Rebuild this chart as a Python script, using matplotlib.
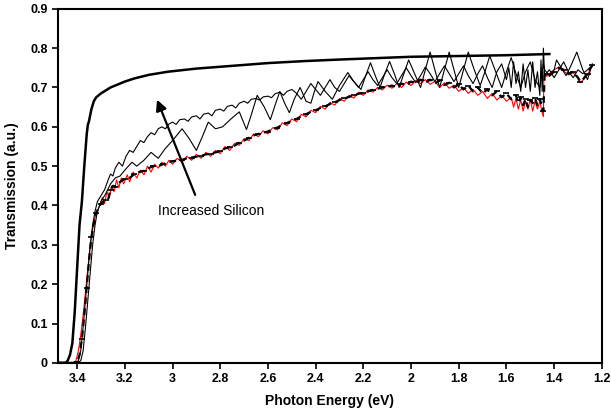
import matplotlib
matplotlib.use("Agg")
import matplotlib.pyplot as plt
import numpy as np

plt.rcParams['font.family'] = ['Liberation Sans', 'DejaVu Sans']

# thick curve (lowest silicon content)
e_thick = [3.48, 3.45, 3.44, 3.43, 3.42, 3.41, 3.40, 3.39, 3.38, 3.37, 3.36, 3.355,
           3.35, 3.34, 3.33, 3.32, 3.30, 3.26, 3.20, 3.16, 3.10, 3.02, 2.90, 2.75,
           2.60, 2.45, 2.30, 2.13, 2.00, 1.80, 1.60, 1.42]
t_thick = [0.0, 0.0, 0.005, 0.02, 0.05, 0.13, 0.24, 0.35, 0.41, 0.50, 0.58, 0.605,
           0.615, 0.645, 0.665, 0.675, 0.685, 0.70, 0.715, 0.723, 0.732, 0.740, 0.748, 0.755,
           0.762, 0.767, 0.771, 0.775, 0.778, 0.780, 0.782, 0.785]

# upper thin curve
e_a = [3.48, 3.41, 3.395, 3.385, 3.375, 3.365, 3.355, 3.345, 3.335, 3.325, 3.315, 3.30,
       3.285, 3.27, 3.26, 3.25, 3.24, 3.225, 3.21, 3.195, 3.18, 3.165, 3.15, 3.135,
       3.12, 3.105, 3.09, 3.075, 3.06, 3.045, 3.03, 3.015, 3.00, 2.985, 2.97, 2.95,
       2.935, 2.92, 2.90, 2.885, 2.87, 2.85, 2.835, 2.82, 2.80, 2.785, 2.77, 2.75,
       2.735, 2.72, 2.70, 2.685, 2.67, 2.65, 2.635, 2.62, 2.60, 2.585, 2.57, 2.55,
       2.535, 2.52, 2.50, 2.48, 2.46, 2.44, 2.42, 2.40, 2.38, 2.36, 2.34, 2.32,
       2.30, 2.28, 2.26, 2.24, 2.22, 2.20, 2.18, 2.16, 2.14, 2.12, 2.10, 2.08,
       2.06, 2.04, 2.02, 2.00, 1.98, 1.96, 1.94, 1.92, 1.90, 1.88, 1.86, 1.84,
       1.82, 1.80, 1.78, 1.76, 1.74, 1.72, 1.70, 1.68, 1.66, 1.64, 1.62, 1.60,
       1.59, 1.58, 1.57, 1.56, 1.55, 1.54, 1.53, 1.52, 1.51, 1.50, 1.49, 1.48,
       1.47, 1.46, 1.455, 1.45, 1.445, 1.44, 1.42, 1.40, 1.38, 1.36, 1.34, 1.32,
       1.30, 1.28, 1.26, 1.24]
t_a = [0.0, 0.0, 0.005, 0.03, 0.09, 0.16, 0.23, 0.30, 0.35, 0.385, 0.41, 0.425,
       0.44, 0.465, 0.48, 0.475, 0.495, 0.51, 0.50, 0.525, 0.54, 0.535, 0.55, 0.565,
       0.56, 0.575, 0.585, 0.58, 0.595, 0.60, 0.595, 0.607, 0.612, 0.606, 0.618, 0.62,
       0.614, 0.625, 0.628, 0.62, 0.632, 0.635, 0.628, 0.642, 0.645, 0.64, 0.652, 0.655,
       0.648, 0.66, 0.665, 0.66, 0.67, 0.672, 0.668, 0.676, 0.678, 0.674, 0.684, 0.688,
       0.68, 0.69, 0.695, 0.685, 0.67, 0.69, 0.71, 0.695, 0.68, 0.70, 0.72, 0.70,
       0.69, 0.71, 0.73, 0.715, 0.70, 0.72, 0.74, 0.72, 0.705, 0.725, 0.745, 0.725,
       0.71, 0.73, 0.75, 0.73, 0.712, 0.73, 0.752, 0.735, 0.715, 0.735, 0.755, 0.735,
       0.715, 0.735, 0.755, 0.73, 0.71, 0.735, 0.755, 0.725, 0.70, 0.74, 0.76, 0.72,
       0.75, 0.70, 0.765, 0.71, 0.74, 0.69, 0.76, 0.70, 0.745, 0.69, 0.765, 0.70,
       0.74, 0.68, 0.77, 0.69, 0.80, 0.73, 0.745, 0.725, 0.745, 0.765, 0.74, 0.725,
       0.745, 0.735, 0.745, 0.755]

# middle thin curve (large fringes)
e_b = [3.48, 3.40, 3.385, 3.375, 3.365, 3.355, 3.345, 3.335, 3.325, 3.315, 3.30, 3.28,
       3.26, 3.24, 3.22, 3.20, 3.17, 3.15, 3.12, 3.09, 3.06, 3.03, 3.00, 2.96,
       2.93, 2.90, 2.875, 2.85, 2.82, 2.79, 2.755, 2.72, 2.69, 2.67, 2.645, 2.615,
       2.59, 2.57, 2.55, 2.53, 2.51, 2.49, 2.465, 2.44, 2.42, 2.405, 2.39, 2.36,
       2.33, 2.30, 2.265, 2.24, 2.21, 2.19, 2.17, 2.15, 2.13, 2.11, 2.09, 2.07,
       2.05, 2.03, 2.01, 1.985, 1.96, 1.94, 1.92, 1.90, 1.88, 1.86, 1.84, 1.82,
       1.80, 1.78, 1.76, 1.735, 1.71, 1.69, 1.67, 1.645, 1.62, 1.60, 1.58, 1.56,
       1.54, 1.52, 1.50, 1.48, 1.46, 1.45, 1.445, 1.44, 1.42, 1.40, 1.39, 1.37,
       1.35, 1.33, 1.305, 1.28, 1.26, 1.25, 1.24]
t_b = [0.0, 0.0, 0.005, 0.03, 0.09, 0.16, 0.23, 0.30, 0.35, 0.385, 0.41, 0.43,
       0.455, 0.47, 0.475, 0.49, 0.51, 0.50, 0.515, 0.535, 0.52, 0.545, 0.565, 0.595,
       0.57, 0.54, 0.575, 0.612, 0.595, 0.60, 0.62, 0.638, 0.593, 0.63, 0.68, 0.65,
       0.618, 0.655, 0.69, 0.66, 0.636, 0.67, 0.70, 0.665, 0.66, 0.69, 0.715, 0.69,
       0.67, 0.705, 0.738, 0.715, 0.695, 0.73, 0.763, 0.73, 0.70, 0.735, 0.766, 0.735,
       0.70, 0.735, 0.77, 0.735, 0.70, 0.745, 0.79, 0.745, 0.70, 0.745, 0.79, 0.745,
       0.70, 0.745, 0.79, 0.745, 0.705, 0.74, 0.78, 0.74, 0.70, 0.74, 0.776, 0.735,
       0.70, 0.74, 0.765, 0.72, 0.70, 0.74, 0.76, 0.745, 0.73, 0.745, 0.77, 0.75,
       0.73, 0.755, 0.79, 0.745, 0.72, 0.74, 0.76]

# lower dashed curve with markers (highest silicon content)
e_d = [3.48, 3.41, 3.40, 3.39, 3.38, 3.37, 3.36, 3.35, 3.34, 3.33, 3.32, 3.31,
       3.30, 3.29, 3.28, 3.27, 3.26, 3.25, 3.24, 3.22, 3.20, 3.18, 3.16, 3.14,
       3.12, 3.10, 3.08, 3.06, 3.04, 3.02, 3.00, 2.98, 2.96, 2.94, 2.92, 2.90,
       2.88, 2.86, 2.84, 2.82, 2.80, 2.78, 2.76, 2.74, 2.72, 2.70, 2.68, 2.66,
       2.64, 2.62, 2.60, 2.58, 2.56, 2.54, 2.52, 2.50, 2.48, 2.46, 2.44, 2.42,
       2.40, 2.38, 2.36, 2.34, 2.32, 2.30, 2.28, 2.26, 2.24, 2.22, 2.20, 2.18,
       2.16, 2.14, 2.12, 2.10, 2.08, 2.06, 2.04, 2.02, 2.00, 1.98, 1.96, 1.94,
       1.92, 1.90, 1.88, 1.86, 1.84, 1.82, 1.80, 1.78, 1.76, 1.74, 1.72, 1.70,
       1.68, 1.66, 1.64, 1.62, 1.60, 1.58, 1.56, 1.55, 1.54, 1.53, 1.52, 1.51,
       1.50, 1.49, 1.48, 1.47, 1.46, 1.45, 1.445, 1.44, 1.43, 1.42, 1.40, 1.38,
       1.36, 1.34, 1.32, 1.30, 1.29, 1.28, 1.26, 1.25, 1.24]
t_d = [0.0, 0.0, 0.003, 0.02, 0.06, 0.12, 0.19, 0.26, 0.32, 0.355, 0.38, 0.395,
       0.405, 0.41, 0.413, 0.415, 0.44, 0.45, 0.448, 0.46, 0.468, 0.47, 0.48, 0.485,
       0.488, 0.495, 0.50, 0.50, 0.505, 0.51, 0.512, 0.515, 0.516, 0.52, 0.522, 0.524,
       0.526, 0.53, 0.532, 0.535, 0.538, 0.545, 0.548, 0.552, 0.56, 0.565, 0.572, 0.578,
       0.582, 0.585, 0.588, 0.595, 0.598, 0.605, 0.61, 0.615, 0.62, 0.627, 0.632, 0.638,
       0.642, 0.648, 0.652, 0.658, 0.662, 0.668, 0.672, 0.676, 0.68, 0.684, 0.686, 0.69,
       0.694, 0.697, 0.70, 0.702, 0.705, 0.70, 0.71, 0.705, 0.715, 0.71, 0.72, 0.712,
       0.72, 0.71, 0.718, 0.706, 0.712, 0.70, 0.708, 0.695, 0.705, 0.69, 0.70, 0.685,
       0.695, 0.68, 0.69, 0.675, 0.685, 0.67, 0.68, 0.66, 0.675, 0.655, 0.67, 0.65,
       0.668, 0.66, 0.672, 0.655, 0.67, 0.65, 0.64, 0.73, 0.735, 0.73, 0.74, 0.75,
       0.745, 0.735, 0.74, 0.725, 0.715, 0.72, 0.735, 0.748, 0.756]

# red thin curve, follows the dashed one
e_r = [3.48, 3.42, 3.405, 3.395, 3.385, 3.375, 3.365, 3.355, 3.345, 3.335, 3.325, 3.315,
       3.305, 3.295, 3.285, 3.275, 3.265, 3.255, 3.245, 3.235, 3.225, 3.215, 3.205, 3.19,
       3.18, 3.165, 3.15, 3.135, 3.12, 3.105, 3.09, 3.075, 3.06, 3.045, 3.03, 3.015,
       3.00, 2.98, 2.96, 2.94, 2.92, 2.90, 2.88, 2.86, 2.84, 2.82, 2.80, 2.78,
       2.76, 2.74, 2.72, 2.70, 2.68, 2.66, 2.64, 2.62, 2.60, 2.58, 2.56, 2.54,
       2.52, 2.50, 2.48, 2.46, 2.44, 2.42, 2.40, 2.38, 2.36, 2.34, 2.32, 2.30,
       2.28, 2.26, 2.24, 2.22, 2.20, 2.18, 2.16, 2.14, 2.12, 2.10, 2.08, 2.06,
       2.04, 2.02, 2.00, 1.98, 1.96, 1.94, 1.92, 1.90, 1.88, 1.86, 1.84, 1.82,
       1.80, 1.78, 1.76, 1.74, 1.72, 1.70, 1.68, 1.66, 1.64, 1.62, 1.60, 1.58,
       1.57, 1.56, 1.55, 1.54, 1.53, 1.52, 1.51, 1.50, 1.49, 1.48, 1.47, 1.46,
       1.45, 1.445, 1.443, 1.43, 1.42, 1.40, 1.38, 1.36, 1.34, 1.32, 1.30, 1.29,
       1.28, 1.26, 1.25, 1.24]
t_r = [0.0, 0.0, 0.005, 0.03, 0.07, 0.12, 0.18, 0.24, 0.30, 0.34, 0.37, 0.385,
       0.40, 0.42, 0.405, 0.435, 0.42, 0.45, 0.435, 0.465, 0.445, 0.47, 0.455, 0.478,
       0.46, 0.485, 0.47, 0.49, 0.478, 0.50, 0.485, 0.505, 0.495, 0.51, 0.50, 0.515,
       0.505, 0.52, 0.51, 0.525, 0.515, 0.53, 0.52, 0.535, 0.525, 0.54, 0.532, 0.55,
       0.54, 0.558, 0.553, 0.57, 0.565, 0.582, 0.575, 0.59, 0.582, 0.598, 0.592, 0.61,
       0.603, 0.62, 0.613, 0.632, 0.625, 0.642, 0.636, 0.652, 0.645, 0.662, 0.655, 0.672,
       0.665, 0.68, 0.673, 0.688, 0.68, 0.694, 0.688, 0.70, 0.694, 0.706, 0.698, 0.71,
       0.70, 0.714, 0.705, 0.718, 0.71, 0.72, 0.708, 0.716, 0.70, 0.712, 0.698, 0.706,
       0.69, 0.70, 0.685, 0.695, 0.68, 0.69, 0.672, 0.685, 0.668, 0.68, 0.665, 0.675,
       0.65, 0.672, 0.645, 0.668, 0.64, 0.665, 0.645, 0.67, 0.64, 0.665, 0.645, 0.665,
       0.635, 0.626, 0.74, 0.728, 0.735, 0.745, 0.752, 0.742, 0.732, 0.738, 0.722, 0.712,
       0.718, 0.732, 0.745, 0.754]

x_ticks = [3.4, 3.2, 3.0, 2.8, 2.6, 2.4, 2.2, 2.0, 1.8, 1.6, 1.4, 1.2]
y_ticks = [0, 0.1, 0.2, 0.3, 0.4, 0.5, 0.6, 0.7, 0.8, 0.9]

fig = plt.figure(figsize=(6.11, 4.19), dpi=100)
ax = fig.add_axes([0.095, 0.134, 0.890, 0.845])

ax.plot(e_r, t_r, color='red', lw=0.8)
ax.plot(e_d, t_d, color='black', lw=1.6, linestyle=(0, (3, 2)),
        marker='_', markersize=4, markeredgewidth=1.2, markevery=2)
ax.plot(e_b, t_b, color='black', lw=0.8)
ax.plot(e_a, t_a, color='black', lw=0.8)
ax.plot(e_thick, t_thick, color='black', lw=1.8)

ax.annotate('', xy=(3.065, 0.669), xytext=(2.905, 0.427),
            arrowprops=dict(arrowstyle='-|>', color='black', lw=1.6,
                            mutation_scale=16, shrinkA=0, shrinkB=0))
ax.text(3.06, 0.387, 'Increased Silicon', fontsize=10, va='center', ha='left')

ax.set_xlim(3.48, 1.2)
ax.set_ylim(0, 0.9)
ax.set_xticks(x_ticks)
ax.set_xticklabels(['%g' % v for v in x_ticks])
ax.set_yticks(y_ticks)
ax.set_yticklabels(['%g' % v for v in y_ticks])
ax.tick_params(direction='out', length=4, width=1.2, labelsize=9)
for lab in ax.get_xticklabels() + ax.get_yticklabels():
    lab.set_fontweight('bold')
for s in ax.spines.values():
    s.set_linewidth(1.5)

ax.set_xlabel('Photon Energy (eV)', fontsize=10, fontweight='bold', labelpad=6)
ax.set_ylabel('Transmission (a.u.)', fontsize=10, fontweight='bold', labelpad=8)

fig.savefig('out.png', dpi=100)
